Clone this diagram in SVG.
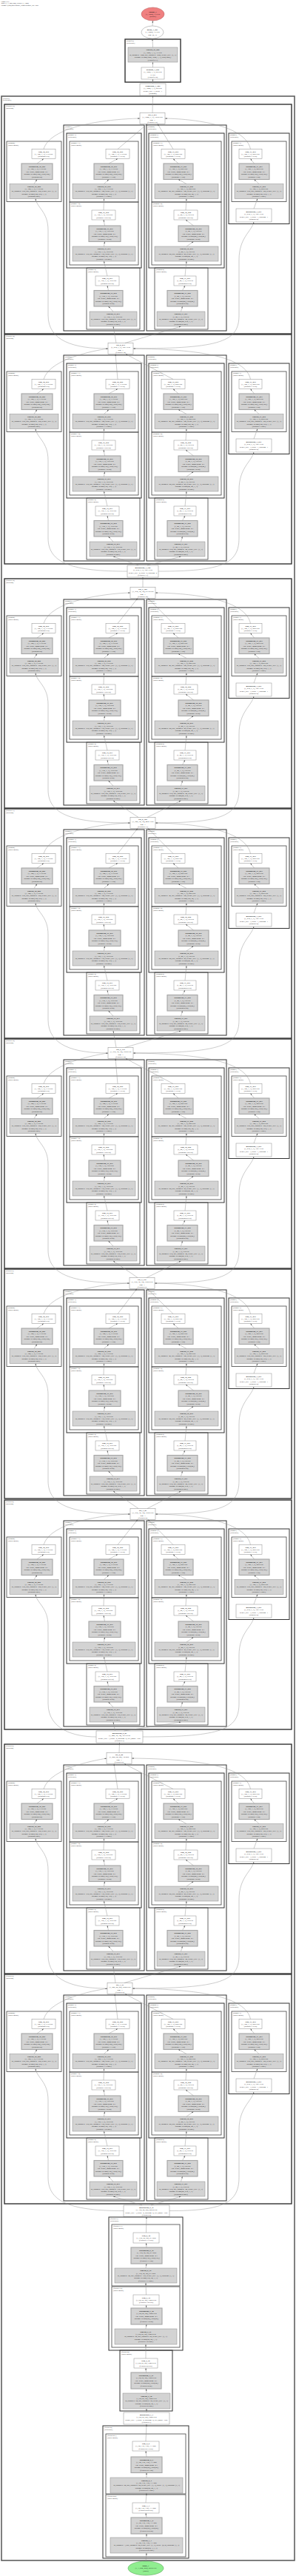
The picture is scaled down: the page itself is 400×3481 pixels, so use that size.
<svg xmlns="http://www.w3.org/2000/svg" width="400" height="3481" viewBox="0 0 400 3481">
<style>
text{font-family:"Liberation Serif","Times New Roman",serif;font-size:2.7px;fill:#1a1a1a;text-anchor:middle}
.b{font-weight:bold}
.lb{font-size:2.3px;text-anchor:start;fill:#222}
.hd{font-size:2.3px;text-anchor:start}
.w{fill:#fff;stroke:#8a8a8a;stroke-width:.5}
.g{fill:#d3d3d3;stroke:#8a8a8a;stroke-width:.5}
.bn{fill:#d3d3d3;stroke:#a5a5a5;stroke-width:1.1}
.k0{fill:none;stroke:#555;stroke-width:1.5}
.k1{fill:none;stroke:#333;stroke-width:1.4}
.k2{fill:none;stroke:#333;stroke-width:1}
.k3{fill:none;stroke:#444;stroke-width:.8}
.e{fill:none;stroke:#8c8c8c;stroke-width:.45;marker-end:url(#ah)}
</style>
<defs>
<marker id="ah" viewBox="0 0 6 4" refX="6" refY="2" markerWidth="2.6" markerHeight="1.8" markerUnits="userSpaceOnUse" orient="auto"><path d="M0,0L6,2L0,4z" fill="#555"/></marker>
<g id="blk">
 <g id="br0">
  <rect class="k3" x="9" y="50" width="74" height="81.5"/>
  <text class="lb" x="11" y="53">(branch0)</text><text class="lb" x="11" y="55.8">(BasicConv2d)</text>
  <g id="br0_relu"><rect class="w" x="43" y="60.5" width="32" height="13"/><text class="b" x="59" y="64.65">relu_78_230</text><text x="59" y="67.95">(1, 384, 7, 7), 73.5 KB</text><text x="59" y="71.25">(branch0.relu)</text></g>
  <g id="br0_bn"><rect class="bn" x="29" y="80" width="42" height="21.5"/><text class="b" x="50" y="84.7">batchnorm_78_229</text><text x="50" y="88.2">(1, 384, 7, 7), 73.5 KB</text><text x="50" y="91.7">eps=0.001, momentum=0.1</text><text x="50" y="95.2">params: weight(384,), bias(384,)</text><text x="50" y="98.7">(branch0.bn)</text></g>
  <g id="br0_conv"><rect class="g" x="13" y="107.5" width="66" height="20"/><text class="b" x="46" y="111.65">conv2d_78_228</text><text x="46" y="115.05">(1, 384, 7, 7), 73.5 KB</text><text x="46" y="118.45">in_channels=832, out_channels=384, kernel_size=(1, 1)</text><text x="46" y="121.85">params: weight(384, 832, 1, 1)</text><text x="46" y="125.25">(branch0.conv)</text></g>
 </g>
 <g id="br1">
  <rect class="k2" x="86" y="28" width="109" height="278"/>
  <text class="lb" x="88" y="31">(branch1)</text><text class="lb" x="88" y="33.8">(Sequential)</text>
  <rect class="k2" x="90" y="39" width="101" height="182"/>
  <text class="lb" x="92" y="42">(branch1.1)</text><text class="lb" x="92" y="44.8">(Sequential)</text>
  <rect class="k3" x="94" y="50" width="93" height="82"/>
  <text class="lb" x="96" y="53">(branch1.1.1)</text><text class="lb" x="96" y="55.8">(BasicConv2d)</text>
  <g id="br1_11_relu"><rect class="w" x="143" y="60.5" width="32" height="13"/><text class="b" x="159" y="64.65">relu_76_240</text><text x="159" y="67.95">(1, 384, 7, 7), 73.5 KB</text><text x="159" y="71.25">(branch1.1.1.relu)</text></g>
  <g id="br1_11_bn"><rect class="bn" x="127" y="80" width="40" height="21.5"/><text class="b" x="147" y="84.7">batchnorm_76_239</text><text x="147" y="88.2">(1, 384, 7, 7), 73.5 KB</text><text x="147" y="91.7">eps=0.001, momentum=0.1</text><text x="147" y="95.2">params: weight(384,), bias(384,)</text><text x="147" y="98.7">(branch1.1.1.bn)</text></g>
  <g id="br1_11_conv"><rect class="g" x="98" y="107.5" width="85" height="20"/><text class="b" x="140.5" y="111.65">conv2d_76_238</text><text x="140.5" y="115.05">(1, 384, 7, 7), 73.5 KB</text><text x="140.5" y="118.45">in_channels=192, out_channels=384, kernel_size=(3, 3), padding=(1, 1)</text><text x="140.5" y="121.85">params: weight(384, 192, 3, 3)</text><text x="140.5" y="125.25">(branch1.1.1.conv)</text></g>
  <rect class="k3" x="94" y="132" width="93" height="85"/>
  <text class="lb" x="96" y="135">(branch1.1.0)</text><text class="lb" x="96" y="137.8">(BasicConv2d)</text>
  <g id="br1_10_relu"><rect class="w" x="124" y="143" width="32" height="13"/><text class="b" x="140" y="147.15">relu_75_236</text><text x="140" y="150.45">(1, 192, 7, 7), 36.8 KB</text><text x="140" y="153.75">(branch1.1.0.relu)</text></g>
  <g id="br1_10_bn"><rect class="bn" x="120" y="164" width="43" height="21.5"/><text class="b" x="141.5" y="168.7">batchnorm_75_235</text><text x="141.5" y="172.2">(1, 192, 7, 7), 36.8 KB</text><text x="141.5" y="175.7">eps=0.001, momentum=0.1</text><text x="141.5" y="179.2">params: weight(192,), bias(192,)</text><text x="141.5" y="182.7">(branch1.1.0.bn)</text></g>
  <g id="br1_10_conv"><rect class="g" x="98" y="192" width="85" height="20"/><text class="b" x="140.5" y="196.15">conv2d_75_234</text><text x="140.5" y="199.55">(1, 192, 7, 7), 36.8 KB</text><text x="140.5" y="202.95">in_channels=192, out_channels=192, kernel_size=(3, 3), padding=(1, 1)</text><text x="140.5" y="206.35">params: weight(192, 192, 3, 3)</text><text x="140.5" y="209.75">(branch1.1.0.conv)</text></g>
  <rect class="k3" x="117" y="221" width="72" height="83"/>
  <text class="lb" x="119" y="224">(branch1.0)</text><text class="lb" x="119" y="226.8">(BasicConv2d)</text>
  <g id="br1_0_relu"><rect class="w" x="129" y="232" width="32" height="13"/><text class="b" x="145" y="236.15">relu_74_233</text><text x="145" y="239.45">(1, 192, 7, 7), 36.8 KB</text><text x="145" y="242.75">(branch1.0.relu)</text></g>
  <g id="br1_0_bn"><rect class="bn" x="127" y="251.5" width="39" height="21.5"/><text class="b" x="146.5" y="256.2">batchnorm_74_232</text><text x="146.5" y="259.7">(1, 192, 7, 7), 36.8 KB</text><text x="146.5" y="263.2">eps=0.001, momentum=0.1</text><text x="146.5" y="266.7">params: weight(192,), bias(192,)</text><text x="146.5" y="270.2">(branch1.0.bn)</text></g>
  <g id="br1_0_conv"><rect class="g" x="121" y="280" width="64" height="20"/><text class="b" x="153" y="284.15">conv2d_74_231</text><text x="153" y="287.55">(1, 192, 7, 7), 36.8 KB</text><text x="153" y="290.95">in_channels=832, out_channels=192, kernel_size=(1, 1)</text><text x="153" y="294.35">params: weight(192, 832, 1, 1)</text><text x="153" y="297.75">(branch1.0.conv)</text></g>
 </g>
 <g id="br2">
  <rect class="k2" x="198" y="28" width="108" height="278"/>
  <text class="lb" x="200" y="31">(branch2)</text><text class="lb" x="200" y="33.8">(Sequential)</text>
  <rect class="k2" x="201" y="39" width="102" height="182"/>
  <text class="lb" x="203" y="42">(branch2.1)</text><text class="lb" x="203" y="44.8">(Sequential)</text>
  <rect class="k3" x="205" y="50" width="94" height="82"/>
  <text class="lb" x="207" y="53">(branch2.1.1)</text><text class="lb" x="207" y="55.8">(BasicConv2d)</text>
  <g id="br2_11_relu"><rect class="w" x="218" y="60.5" width="32" height="13"/><text class="b" x="234" y="64.65">relu_73_250</text><text x="234" y="67.95">(1, 128, 7, 7), 24.5 KB</text><text x="234" y="71.25">(branch2.1.1.relu)</text></g>
  <g id="br2_11_bn"><rect class="bn" x="221" y="80" width="40" height="21.5"/><text class="b" x="241" y="84.7">batchnorm_73_249</text><text x="241" y="88.2">(1, 128, 7, 7), 24.5 KB</text><text x="241" y="91.7">eps=0.001, momentum=0.1</text><text x="241" y="95.2">params: weight(128,), bias(128,)</text><text x="241" y="98.7">(branch2.1.1.bn)</text></g>
  <g id="br2_11_conv"><rect class="g" x="209" y="107.5" width="86" height="20"/><text class="b" x="252" y="111.65">conv2d_73_248</text><text x="252" y="115.05">(1, 128, 7, 7), 24.5 KB</text><text x="252" y="118.45">in_channels=48, out_channels=128, kernel_size=(3, 3), padding=(1, 1)</text><text x="252" y="121.85">params: weight(128, 48, 3, 3)</text><text x="252" y="125.25">(branch2.1.1.conv)</text></g>
  <rect class="k3" x="205" y="132" width="94" height="85"/>
  <text class="lb" x="207" y="135">(branch2.1.0)</text><text class="lb" x="207" y="137.8">(BasicConv2d)</text>
  <g id="br2_10_relu"><rect class="w" x="235" y="143" width="32" height="13"/><text class="b" x="251" y="147.15">relu_72_246</text><text x="251" y="150.45">(1, 48, 7, 7), 9.2 KB</text><text x="251" y="153.75">(branch2.1.0.relu)</text></g>
  <g id="br2_10_bn"><rect class="bn" x="241" y="164" width="41" height="21.5"/><text class="b" x="261.5" y="168.7">batchnorm_72_245</text><text x="261.5" y="172.2">(1, 48, 7, 7), 9.2 KB</text><text x="261.5" y="175.7">eps=0.001, momentum=0.1</text><text x="261.5" y="179.2">params: weight(48,), bias(48,)</text><text x="261.5" y="182.7">(branch2.1.0.bn)</text></g>
  <g id="br2_10_conv"><rect class="g" x="209" y="192" width="86" height="20"/><text class="b" x="252" y="196.15">conv2d_72_244</text><text x="252" y="199.55">(1, 48, 7, 7), 9.2 KB</text><text x="252" y="202.95">in_channels=48, out_channels=48, kernel_size=(3, 3), padding=(1, 1)</text><text x="252" y="206.35">params: weight(48, 48, 3, 3)</text><text x="252" y="209.75">(branch2.1.0.conv)</text></g>
  <rect class="k3" x="209" y="221" width="72" height="83"/>
  <text class="lb" x="211" y="224">(branch2.0)</text><text class="lb" x="211" y="226.8">(BasicConv2d)</text>
  <g id="br2_0_relu"><rect class="w" x="235" y="232" width="30" height="13"/><text class="b" x="250" y="236.15">relu_71_243</text><text x="250" y="239.45">(1, 48, 7, 7), 9.2 KB</text><text x="250" y="242.75">(branch2.0.relu)</text></g>
  <g id="br2_0_bn"><rect class="bn" x="226" y="251.5" width="41" height="21.5"/><text class="b" x="246.5" y="256.2">batchnorm_71_242</text><text x="246.5" y="259.7">(1, 48, 7, 7), 9.2 KB</text><text x="246.5" y="263.2">eps=0.001, momentum=0.1</text><text x="246.5" y="266.7">params: weight(48,), bias(48,)</text><text x="246.5" y="270.2">(branch2.0.bn)</text></g>
  <g id="br2_0_conv"><rect class="g" x="212" y="280" width="65" height="20"/><text class="b" x="244.5" y="284.15">conv2d_71_241</text><text x="244.5" y="287.55">(1, 48, 7, 7), 9.2 KB</text><text x="244.5" y="290.95">in_channels=832, out_channels=48, kernel_size=(1, 1)</text><text x="244.5" y="294.35">params: weight(48, 832, 1, 1)</text><text x="244.5" y="297.75">(branch2.0.conv)</text></g>
 </g>
 <g id="br3">
  <rect class="k2" x="309" y="39" width="82" height="122.5"/>
  <text class="lb" x="311" y="42">(branch3)</text><text class="lb" x="311" y="44.8">(Sequential)</text>
  <rect class="k3" x="313" y="50" width="74" height="81.5"/>
  <text class="lb" x="315" y="53">(branch3.1)</text><text class="lb" x="315" y="55.8">(BasicConv2d)</text>
  <g id="br3_relu"><rect class="w" x="323" y="60.5" width="31" height="13"/><text class="b" x="338.5" y="64.65">relu_77_254</text><text x="338.5" y="67.95">(1, 128, 7, 7), 24.5 KB</text><text x="338.5" y="71.25">(branch3.1.relu)</text></g>
  <g id="br3_bn"><rect class="bn" x="323" y="80" width="41" height="21.5"/><text class="b" x="343.5" y="84.7">batchnorm_77_253</text><text x="343.5" y="88.2">(1, 128, 7, 7), 24.5 KB</text><text x="343.5" y="91.7">eps=0.001, momentum=0.1</text><text x="343.5" y="95.2">params: weight(128,), bias(128,)</text><text x="343.5" y="98.7">(branch3.1.bn)</text></g>
  <g id="br3_conv"><rect class="g" x="317" y="107.5" width="66" height="20"/><text class="b" x="350" y="111.65">conv2d_77_252</text><text x="350" y="115.05">(1, 128, 7, 7), 24.5 KB</text><text x="350" y="118.45">in_channels=832, out_channels=128, kernel_size=(1, 1)</text><text x="350" y="121.85">params: weight(128, 832, 1, 1)</text><text x="350" y="125.25">(branch3.1.conv)</text></g>
  <g id="br3_pool"><rect class="w" x="319" y="141" width="48" height="18"/><text class="b" x="343" y="145.7">maxpool2d_3_251</text><text x="343" y="149.2">(1, 832, 7, 7), 159.3 KB</text><text x="343" y="152.7">kernel_size=3, stride=1, padding=1</text><text x="343" y="156.2">(branch3.0)</text></g>
 </g>
</g>
<g id="blkE">
<path class="e" d="M46,107.5L50,101.5"/><path class="e" d="M50,80L59,73.5"/>
<path class="e" d="M140.5,107.5L147,101.5"/><path class="e" d="M147,80L159,73.5"/>
<path class="e" d="M140.5,192L141.5,185.5"/><path class="e" d="M141.5,164L140,156"/>
<path class="e" d="M140,143L140.5,127.5"/>
<path class="e" d="M153,280L146.5,273"/><path class="e" d="M146.5,251.5L145,245"/>
<path class="e" d="M145,232L140.5,212"/>
<path class="e" d="M252,107.5L241,101.5"/><path class="e" d="M241,80L234,73.5"/>
<path class="e" d="M252,192L261.5,185.5"/><path class="e" d="M261.5,164L251,156"/>
<path class="e" d="M251,143L252,127.5"/>
<path class="e" d="M244.5,280L246.5,273"/><path class="e" d="M246.5,251.5L250,245"/>
<path class="e" d="M250,232L252,212"/>
<path class="e" d="M350,107.5L343.5,101.5"/><path class="e" d="M343.5,80L338.5,73.5"/>
<path class="e" d="M343,141L348,127.5"/>
</g>
</defs>
<rect width="400" height="3481" fill="#fff"/>
<g id="header">
<text class="hd" x="1.5" y="2.6">GoogLeNet</text>
<text class="hd" x="1.5" y="5.2">Input: (1, 3, 224, 224), Output: (1, 1000)</text>
<text class="hd" x="1.5" y="7.8">Params: 6,624,904 trainable, 0 non-trainable, 25.3 MB</text>
</g>
<g id="clusters">
<rect class="k0" x="2" y="130" width="396" height="3330"/>
<text class="lb" x="4" y="133.5">(features)</text><text class="lb" x="4" y="136.3">(Sequential)</text>
<g id="classifier"><rect class="k1" x="169" y="53" width="75" height="58"/>
<text class="lb" x="171" y="56">(classifier)</text><text class="lb" x="171" y="58.8">(Sequential)</text></g>
</g>
<g id="nodes">
<g id="output_1"><ellipse cx="206.5" cy="19" rx="15.5" ry="9" fill="#f08080" stroke="#b05858" stroke-width=".5"/><text class="b" x="206.5" y="16.65">output_1</text><text x="206.5" y="19.95">(1, 1000), 3.9 KB</text><text x="206.5" y="23.25">(output)</text></g>
<g id="mean_1"><ellipse cx="206" cy="43.5" rx="15" ry="8.5" fill="#fff" stroke="#8a8a8a" stroke-width=".5"/><text class="b" x="206" y="41.15">mean_1_227</text><text x="206" y="44.45">(1, 1000), 3.9 KB</text><text x="206" y="47.75">dim=(2, 3)</text></g>
<g id="classifier_conv"><rect class="g" x="173" y="64" width="67" height="20"/><text class="b" x="206.5" y="68.15">conv2d_76_226</text><text x="206.5" y="71.55">(1, 1000, 1, 1), 3.9 KB</text><text x="206.5" y="74.95">in_channels=1024, out_channels=1000, kernel_size=(1, 1)</text><text x="206.5" y="78.35">params: weight(1000, 1024, 1, 1), bias(1000,)</text><text x="206.5" y="81.75">(classifier.1)</text></g>
<g id="dropout"><rect class="w" x="191" y="91" width="31" height="16"/><text class="b" x="206.5" y="95">dropout_1_225</text><text x="206.5" y="98.3">(1, 1024, 1, 1), 4.0 KB</text><text x="206.5" y="101.6">p=0.2</text><text x="206.5" y="104.9">(classifier.0)</text></g>
<g id="avgpool"><rect class="w" x="189" y="113" width="35" height="16"/><text class="b" x="206.5" y="117">avgpool2d_1_224</text><text x="206.5" y="120.3">(1, 1024, 1, 1), 4.0 KB</text><text x="206.5" y="123.6">kernel_size=7, stride=1</text><text x="206.5" y="126.9">(avgpool)</text></g>

<g id="features.15"><rect class="k1" x="6" y="141" width="388" height="310"/><text class="lb" x="8" y="144.4">(features.15)</text><text class="lb" x="8" y="147.2">(Inception)</text><use href="#blk" y="141"/>
<g id="cat_9"><rect class="w" x="189" y="152.5" width="34" height="15"/><text class="b" x="206" y="156">cat_9_241</text><text x="206" y="159.3">(1, 1024, 7, 7), 196.0 KB</text><text x="206" y="162.6">dim=1</text><text x="206" y="165.9">(features.15)</text></g></g>

<g id="features.14"><rect class="k1" x="6" y="452" width="388" height="310"/><text class="lb" x="8" y="455.4">(features.14)</text><text class="lb" x="8" y="458.2">(Inception)</text><use href="#blk" y="452"/>
<g id="cat_8"><rect class="w" x="146" y="463.5" width="34" height="15"/><text class="b" x="163" y="467">cat_8_214</text><text x="163" y="470.3">(1, 832, 7, 7), 159.3 KB</text><text x="163" y="473.6">dim=1</text><text x="163" y="476.9">(features.14)</text></g></g>

<g id="features.13"><rect class="w" x="172" y="764" width="42" height="16"/><text class="b" x="193" y="768">maxpool2d_3_189</text><text x="193" y="771.3">(1, 832, 7, 7), 159.3 KB</text><text x="193" y="774.6">kernel_size=2, stride=2, padding=0</text><text x="193" y="777.9">(features.13)</text></g>

<g id="features.12"><rect class="k1" x="6" y="782" width="388" height="310"/><text class="lb" x="8" y="785.4">(features.12)</text><text class="lb" x="8" y="788.2">(Inception)</text><use href="#blk" y="782"/>
<g id="cat_7"><rect class="w" x="176" y="793.5" width="34" height="15"/><text class="b" x="193" y="797">cat_7_185</text><text x="193" y="800.3">(1, 832, 14, 14), 637.0 KB</text><text x="193" y="803.6">dim=1</text><text x="193" y="806.9">(features.12)</text></g></g>

<g id="features.11"><rect class="k1" x="6" y="1093" width="388" height="310"/><text class="lb" x="8" y="1096.4">(features.11)</text><text class="lb" x="8" y="1099.2">(Inception)</text><use href="#blk" y="1093"/>
<g id="cat_6"><rect class="w" x="176" y="1104.5" width="34" height="15"/><text class="b" x="193" y="1108">cat_6_160</text><text x="193" y="1111.3">(1, 528, 14, 14), 404.3 KB</text><text x="193" y="1114.6">dim=1</text><text x="193" y="1117.9">(features.11)</text></g></g>

<g id="features.10"><rect class="k1" x="6" y="1404" width="388" height="310"/><text class="lb" x="8" y="1407.4">(features.10)</text><text class="lb" x="8" y="1410.2">(Inception)</text><use href="#blk" y="1404"/>
<g id="cat_5"><rect class="w" x="146" y="1415.5" width="34" height="15"/><text class="b" x="163" y="1419">cat_5_135</text><text x="163" y="1422.3">(1, 512, 14, 14), 392.0 KB</text><text x="163" y="1425.6">dim=1</text><text x="163" y="1428.9">(features.10)</text></g></g>

<g id="features.9"><rect class="k1" x="6" y="1715" width="388" height="310"/><text class="lb" x="8" y="1718.4">(features.9)</text><text class="lb" x="8" y="1721.2">(Inception)</text><use href="#blk" y="1715"/>
<g id="cat_4"><rect class="w" x="175" y="1726.5" width="34" height="15"/><text class="b" x="192" y="1730">cat_4_110</text><text x="192" y="1733.3">(1, 512, 14, 14), 392.0 KB</text><text x="192" y="1736.6">dim=1</text><text x="192" y="1739.9">(features.9)</text></g></g>

<g id="features.8"><rect class="k1" x="6" y="2027" width="388" height="310"/><text class="lb" x="8" y="2030.4">(features.8)</text><text class="lb" x="8" y="2033.2">(Inception)</text><use href="#blk" y="2027"/>
<g id="cat_3"><rect class="w" x="176" y="2038.5" width="34" height="15"/><text class="b" x="193" y="2042">cat_3_87</text><text x="193" y="2045.3">(1, 512, 14, 14), 392.0 KB</text><text x="193" y="2048.6">dim=1</text><text x="193" y="2051.9">(features.8)</text></g></g>

<g id="features.7"><rect class="w" x="130" y="2339" width="63" height="16"/><text class="b" x="161.5" y="2343">maxpool2d_2_85</text><text x="161.5" y="2346.3">(1, 480, 14, 14), 367.5 KB</text><text x="161.5" y="2349.6">kernel_size=3, stride=2, padding=0, ceil_mode=True</text><text x="161.5" y="2352.9">(features.7)</text></g>

<g id="features.6"><rect class="k1" x="6" y="2357" width="388" height="310"/><text class="lb" x="8" y="2360.4">(features.6)</text><text class="lb" x="8" y="2363.2">(Inception)</text><use href="#blk" y="2357"/>
<g id="cat_2"><rect class="w" x="144" y="2368.5" width="34" height="15"/><text class="b" x="161" y="2372">cat_2_82</text><text x="161" y="2375.3">(1, 480, 28, 28), 1.4 MB</text><text x="161" y="2378.6">dim=1</text><text x="161" y="2381.9">(features.6)</text></g></g>

<g id="features.5"><rect class="k1" x="6" y="2668" width="388" height="310"/><text class="lb" x="8" y="2671.4">(features.5)</text><text class="lb" x="8" y="2674.2">(Inception)</text><use href="#blk" y="2668"/>
<g id="cat_1"><rect class="w" x="145" y="2679.5" width="34" height="15"/><text class="b" x="162" y="2683">cat_1_57</text><text x="162" y="2686.3">(1, 256, 28, 28), 784.0 KB</text><text x="162" y="2689.6">dim=1</text><text x="162" y="2692.9">(features.5)</text></g></g>

<g id="features.4"><rect class="w" x="167" y="2980" width="62" height="15.5"/><text class="b" x="198" y="2984">maxpool2d_2_47</text><text x="198" y="2987.3">(1, 192, 28, 28), 588.0 KB</text><text x="198" y="2990.6">kernel_size=3, stride=2, padding=0, ceil_mode=True</text><text x="198" y="2993.9">(features.4)</text></g>

<g id="features.3"><rect class="k2" x="147" y="2996" width="100" height="180"/><text class="lb" x="149" y="2999">(features.3)</text><text class="lb" x="149" y="3001.8">(Sequential)</text>
<rect class="k3" x="151" y="3006" width="92" height="83"/><text class="lb" x="153" y="3009">(features.3.1)</text><text class="lb" x="153" y="3011.8">(BasicConv2d)</text>
<g id="relu_6"><rect class="w" x="180" y="3017" width="35" height="14"/><text class="b" x="197.5" y="3021.65">relu_6_46</text><text x="197.5" y="3024.95">(1, 192, 56, 56), 2.3 MB</text><text x="197.5" y="3028.25">(features.3.1.relu)</text></g>
<g id="bn_6"><rect class="bn" x="177" y="3037" width="42" height="22"/><text class="b" x="198" y="3041.95">batchnorm_6_45</text><text x="198" y="3045.45">(1, 192, 56, 56), 2.3 MB</text><text x="198" y="3048.95">eps=0.001, momentum=0.1</text><text x="198" y="3052.45">params: weight(192,), bias(192,)</text><text x="198" y="3055.95">(features.3.1.bn)</text></g>
<g id="conv_6"><rect class="g" x="155" y="3065" width="84" height="20"/><text class="b" x="197" y="3069.15">conv2d_6_44</text><text x="197" y="3072.55">(1, 192, 56, 56), 2.3 MB</text><text x="197" y="3075.95">in_channels=64, out_channels=192, kernel_size=(3, 3), padding=(1, 1)</text><text x="197" y="3079.35">params: weight(192, 64, 3, 3)</text><text x="197" y="3082.75">(features.3.1.conv)</text></g>
<rect class="k3" x="151" y="3090" width="92" height="82"/><text class="lb" x="153" y="3093">(features.3.0)</text><text class="lb" x="153" y="3095.8">(BasicConv2d)</text>
<g id="relu_5"><rect class="w" x="180" y="3101" width="35" height="14"/><text class="b" x="197.5" y="3105.65">relu_5_43</text><text x="197.5" y="3108.95">(1, 64, 56, 56), 784.0 KB</text><text x="197.5" y="3112.25">(features.3.0.relu)</text></g>
<g id="bn_5"><rect class="bn" x="177" y="3119" width="42" height="22"/><text class="b" x="198" y="3123.95">batchnorm_5_42</text><text x="198" y="3127.45">(1, 64, 56, 56), 784.0 KB</text><text x="198" y="3130.95">eps=0.001, momentum=0.1</text><text x="198" y="3134.45">params: weight(64,), bias(64,)</text><text x="198" y="3137.95">(features.3.0.bn)</text></g>
<g id="conv_5"><rect class="g" x="155" y="3147" width="84" height="21"/><text class="b" x="197" y="3151.65">conv2d_5_41</text><text x="197" y="3155.05">(1, 64, 56, 56), 784.0 KB</text><text x="197" y="3158.45">in_channels=64, out_channels=64, kernel_size=(1, 1)</text><text x="197" y="3161.85">params: weight(64, 64, 1, 1)</text><text x="197" y="3165.25">(features.3.0.conv)</text></g>
</g>

<g id="features.2"><rect class="k2" x="162" y="3176" width="71" height="82"/><text class="lb" x="164" y="3179">(features.2)</text><text class="lb" x="164" y="3181.8">(BasicConv2d)</text>
<g id="relu_4"><rect class="w" x="181" y="3187" width="32" height="13"/><text class="b" x="197" y="3191.15">relu_4_40</text><text x="197" y="3194.45">(1, 64, 56, 56), 784.0 KB</text><text x="197" y="3197.75">(features.2.relu)</text></g>
<g id="bn_4"><rect class="bn" x="177" y="3206" width="41" height="22"/><text class="b" x="197.5" y="3210.95">batchnorm_4_39</text><text x="197.5" y="3214.45">(1, 64, 56, 56), 784.0 KB</text><text x="197.5" y="3217.95">eps=0.001, momentum=0.1</text><text x="197.5" y="3221.45">params: weight(64,), bias(64,)</text><text x="197.5" y="3224.95">(features.2.bn)</text></g>
<g id="conv_4"><rect class="g" x="166" y="3234" width="64" height="21"/><text class="b" x="198" y="3238.65">conv2d_4_38</text><text x="198" y="3242.05">(1, 64, 56, 56), 784.0 KB</text><text x="198" y="3245.45">in_channels=64, out_channels=64, kernel_size=(1, 1)</text><text x="198" y="3248.85">params: weight(64, 64, 1, 1)</text><text x="198" y="3252.25">(features.2.conv)</text></g>
</g>

<g id="features.1"><rect class="w" x="167" y="3260" width="62" height="16"/><text class="b" x="198" y="3264">maxpool2d_1_7</text><text x="198" y="3267.3">(1, 64, 56, 56), 784.0 KB</text><text x="198" y="3270.6">kernel_size=3, stride=2, padding=0, ceil_mode=True</text><text x="198" y="3273.9">(features.1)</text></g>

<g id="features.0"><rect class="k2" x="139" y="3278" width="116" height="179"/><text class="lb" x="141" y="3281">(features.0)</text><text class="lb" x="141" y="3283.8">(Sequential)</text>
<rect class="k3" x="143" y="3289" width="108" height="81"/><text class="lb" x="145" y="3292">(features.0.1)</text><text class="lb" x="145" y="3294.8">(BasicConv2d)</text>
<g id="relu_2"><rect class="w" x="179" y="3299" width="36" height="13"/><text class="b" x="197" y="3303.15">relu_2_6</text><text x="197" y="3306.45">(1, 64, 112, 112), 3.1 MB</text><text x="197" y="3309.75">(features.0.1.relu)</text></g>
<g id="bn_2"><rect class="bn" x="177" y="3320" width="42" height="21.5"/><text class="b" x="198" y="3324.7">batchnorm_2_5</text><text x="198" y="3328.2">(1, 64, 112, 112), 3.1 MB</text><text x="198" y="3331.7">eps=0.001, momentum=0.1</text><text x="198" y="3335.2">params: weight(64,), bias(64,)</text><text x="198" y="3338.7">(features.0.1.bn)</text></g>
<g id="conv_2"><rect class="g" x="149" y="3348" width="98" height="21"/><text class="b" x="198" y="3352.65">conv2d_2_4</text><text x="198" y="3356.05">(1, 64, 112, 112), 3.1 MB</text><text x="198" y="3359.45">in_channels=64, out_channels=64, kernel_size=(3, 3), stride=(1, 1), padding=(1, 1)</text><text x="198" y="3362.85">params: weight(64, 64, 3, 3)</text><text x="198" y="3366.25">(features.0.1.conv)</text></g>
<rect class="k3" x="143" y="3371" width="108" height="84"/><text class="lb" x="145" y="3374">(features.0.0)</text><text class="lb" x="145" y="3376.8">(BasicConv2d)</text>
<g id="relu_1"><rect class="w" x="179" y="3382" width="36" height="14"/><text class="b" x="197" y="3386.65">relu_1_3</text><text x="197" y="3389.95">(1, 64, 112, 112), 3.1 MB</text><text x="197" y="3393.25">(features.0.0.relu)</text></g>
<g id="bn_1"><rect class="bn" x="177" y="3402" width="42" height="22"/><text class="b" x="198" y="3406.95">batchnorm_1_2</text><text x="198" y="3410.45">(1, 64, 112, 112), 3.1 MB</text><text x="198" y="3413.95">eps=0.001, momentum=0.1</text><text x="198" y="3417.45">params: weight(64,), bias(64,)</text><text x="198" y="3420.95">(features.0.0.bn)</text></g>
<g id="conv_1"><rect class="g" x="149" y="3429" width="98" height="21"/><text class="b" x="198" y="3433.65">conv2d_1_1</text><text x="198" y="3437.05">(1, 64, 112, 112), 3.1 MB</text><text x="198" y="3440.45">in_channels=3, out_channels=64, kernel_size=(7, 7), stride=(2, 2), padding=(3, 3)</text><text x="198" y="3443.85">params: weight(64, 3, 7, 7)</text><text x="198" y="3447.25">(features.0.0.conv)</text></g>
</g>

<g id="input_1"><ellipse cx="197" cy="3470.5" rx="24" ry="9.5" fill="#90ee90" stroke="#4f9a4f" stroke-width=".5"/><text class="b" x="197" y="3468.15">input_1</text><text x="197" y="3471.45">(1, 3, 224, 224), 588.0 KB</text><text x="197" y="3474.75">(input)</text></g>
</g>

<g id="connectors">
<path class="e" d="M206,35L206.5,28"/>
<path class="e" d="M206.5,64L206,52"/>
<path class="e" d="M206.5,91L206.5,84"/>
<path class="e" d="M206.5,113L206.5,107"/>
<path class="e" d="M206,152.5L206.5,129"/>

<use href="#blkE" y="141"/>
<path class="e" d="M59,201.5C68,171 140,161 189,160"/>
<path class="e" d="M159,201.5L199,167.5"/>
<path class="e" d="M234,201.5L213,167.5"/>
<path class="e" d="M338.5,201.5C332,171 270,161 223,160"/>
<path class="e" d="M146,471C100,471 65,461 65,426L65,311C65,286 50,281 48,268.5"/>
<path class="e" d="M157,463.5L153,441"/>
<path class="e" d="M169,463.5L244.5,441"/>
<path class="e" d="M180,471C300,471 323,461 323,426L323,351C323,321 340,313 343,300"/>

<use href="#blkE" y="452"/>
<path class="e" d="M59,512.5C68,482 140,472 146,471"/>
<path class="e" d="M159,512.5L156,478.5"/>
<path class="e" d="M234,512.5L170,478.5"/>
<path class="e" d="M338.5,512.5C332,482 270,472 180,471"/>
<path class="e" d="M172,772C100,772 65,762 65,727L65,622C65,597 50,592 48,579.5"/>
<path class="e" d="M187,764L153,752"/>
<path class="e" d="M199,764L244.5,752"/>
<path class="e" d="M214,772C300,772 323,762 323,727L323,662C323,632 340,624 343,611"/>
<path class="e" d="M193,793.5L193,780"/>

<use href="#blkE" y="782"/>
<path class="e" d="M59,842.5C68,812 140,802 176,801"/>
<path class="e" d="M159,842.5L186,808.5"/>
<path class="e" d="M234,842.5L200,808.5"/>
<path class="e" d="M338.5,842.5C332,812 270,802 210,801"/>
<path class="e" d="M176,1112C100,1112 65,1102 65,1067L65,952C65,927 50,922 48,909.5"/>
<path class="e" d="M187,1104.5L153,1082"/>
<path class="e" d="M199,1104.5L244.5,1082"/>
<path class="e" d="M210,1112C300,1112 323,1102 323,1067L323,992C323,962 340,954 343,941"/>

<use href="#blkE" y="1093"/>
<path class="e" d="M59,1153.5C68,1123 140,1113 176,1112"/>
<path class="e" d="M159,1153.5L186,1119.5"/>
<path class="e" d="M234,1153.5L200,1119.5"/>
<path class="e" d="M338.5,1153.5C332,1123 270,1113 210,1112"/>
<path class="e" d="M146,1423C100,1423 65,1413 65,1378L65,1263C65,1238 50,1233 48,1220.5"/>
<path class="e" d="M157,1415.5L153,1393"/>
<path class="e" d="M169,1415.5L244.5,1393"/>
<path class="e" d="M180,1423C300,1423 323,1413 323,1378L323,1303C323,1273 340,1265 343,1252"/>

<use href="#blkE" y="1404"/>
<path class="e" d="M59,1464.5C68,1434 140,1424 146,1423"/>
<path class="e" d="M159,1464.5L156,1430.5"/>
<path class="e" d="M234,1464.5L170,1430.5"/>
<path class="e" d="M338.5,1464.5C332,1434 270,1424 180,1423"/>
<path class="e" d="M175,1734C100,1734 65,1724 65,1689L65,1574C65,1549 50,1544 48,1531.5"/>
<path class="e" d="M186,1726.5L153,1704"/>
<path class="e" d="M198,1726.5L244.5,1704"/>
<path class="e" d="M209,1734C300,1734 323,1724 323,1689L323,1614C323,1584 340,1576 343,1563"/>

<use href="#blkE" y="1715"/>
<path class="e" d="M59,1775.5C68,1745 140,1735 175,1734"/>
<path class="e" d="M159,1775.5L185,1741.5"/>
<path class="e" d="M234,1775.5L199,1741.5"/>
<path class="e" d="M338.5,1775.5C332,1745 270,1735 209,1734"/>
<path class="e" d="M176,2046C100,2046 65,2036 65,2001L65,1885C65,1860 50,1855 48,1842.5"/>
<path class="e" d="M187,2038.5L153,2015"/>
<path class="e" d="M199,2038.5L244.5,2015"/>
<path class="e" d="M210,2046C300,2046 323,2036 323,2001L323,1925C323,1895 340,1887 343,1874"/>

<use href="#blkE" y="2027"/>
<path class="e" d="M59,2087.5C68,2057 140,2047 176,2046"/>
<path class="e" d="M159,2087.5L186,2053.5"/>
<path class="e" d="M234,2087.5L200,2053.5"/>
<path class="e" d="M338.5,2087.5C332,2057 270,2047 210,2046"/>
<path class="e" d="M130,2347C100,2347 65,2337 65,2302L65,2197C65,2172 50,2167 48,2154.5"/>
<path class="e" d="M155.5,2339L153,2327"/>
<path class="e" d="M167.5,2339L244.5,2327"/>
<path class="e" d="M193,2347C300,2347 323,2337 323,2302L323,2237C323,2207 340,2199 343,2186"/>
<path class="e" d="M161,2368.5L161.5,2355"/>

<use href="#blkE" y="2357"/>
<path class="e" d="M59,2417.5C68,2387 140,2377 144,2376"/>
<path class="e" d="M159,2417.5L154,2383.5"/>
<path class="e" d="M234,2417.5L168,2383.5"/>
<path class="e" d="M338.5,2417.5C332,2387 270,2377 178,2376"/>
<path class="e" d="M145,2687C100,2687 65,2677 65,2642L65,2527C65,2502 50,2497 48,2484.5"/>
<path class="e" d="M156,2679.5L153,2657"/>
<path class="e" d="M168,2679.5L244.5,2657"/>
<path class="e" d="M179,2687C300,2687 323,2677 323,2642L323,2567C323,2537 340,2529 343,2516"/>

<use href="#blkE" y="2668"/>
<path class="e" d="M59,2728.5C68,2698 140,2688 145,2687"/>
<path class="e" d="M159,2728.5L155,2694.5"/>
<path class="e" d="M234,2728.5L169,2694.5"/>
<path class="e" d="M338.5,2728.5C332,2698 270,2688 179,2687"/>
<path class="e" d="M167,2987.5C100,2987.5 65,2977.5 65,2942.5L65,2838C65,2813 50,2808 48,2795.5"/>
<path class="e" d="M192,2980L153,2968"/>
<path class="e" d="M204,2980L244.5,2968"/>
<path class="e" d="M229,2987.5C300,2987.5 323,2977.5 323,2942.5L323,2878C323,2848 340,2840 343,2827"/>

<path class="e" d="M197.5,3017L198,2995.5"/>
<path class="e" d="M197,3065L198,3059"/>
<path class="e" d="M198,3037L197.5,3031"/>
<path class="e" d="M197.5,3101L197,3085"/>
<path class="e" d="M197,3147L198,3141"/>
<path class="e" d="M198,3119L197.5,3115"/>
<path class="e" d="M197,3187L197,3168"/>
<path class="e" d="M198,3234L197.5,3228"/>
<path class="e" d="M197.5,3206L197,3200"/>
<path class="e" d="M198,3260L198,3255"/>
<path class="e" d="M197,3299L198,3276"/>
<path class="e" d="M198,3348L198,3341.5"/>
<path class="e" d="M198,3320L197,3312"/>
<path class="e" d="M197,3382L198,3369"/>
<path class="e" d="M198,3429L198,3424"/>
<path class="e" d="M198,3402L197,3396"/>
<path class="e" d="M197,3461L198,3450"/>
</g>
</svg>
